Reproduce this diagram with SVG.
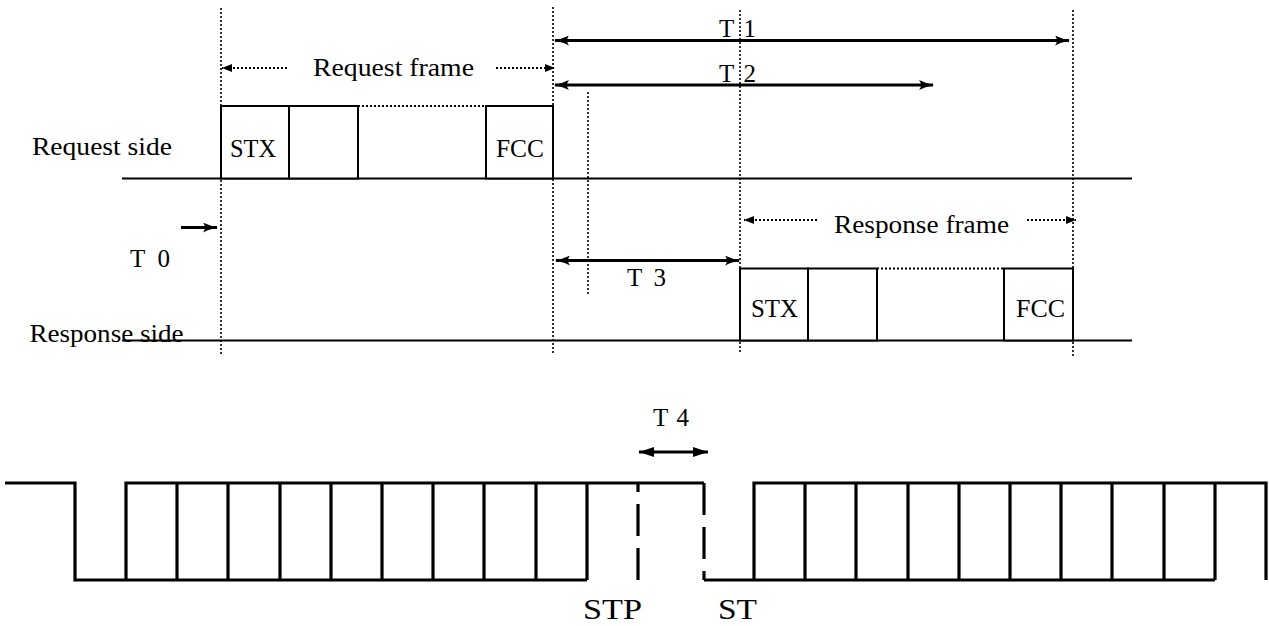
<svg xmlns="http://www.w3.org/2000/svg" width="1269" height="626" viewBox="0 0 1269 626" font-family="'Liberation Serif', 'DejaVu Serif', serif">
<style>
text{font-family:'Liberation Serif','DejaVu Serif',serif;font-size:25px;fill:#000}
.big{font-size:30px}
.base{stroke:#000;stroke-width:2;fill:none}
.box{stroke:#000;stroke-width:2;fill:#fff}
.vdot{stroke:#000;stroke-width:1.6;stroke-dasharray:2 2;fill:none}
.hdot{stroke:#000;stroke-width:2;stroke-dasharray:2 2;fill:none}
.tarr{stroke:#000;stroke-width:3;fill:none}
.wave{stroke:#000;stroke-width:3.2;fill:none;stroke-linejoin:miter}
.dash{stroke:#000;stroke-width:3.2;fill:none;stroke-dasharray:32 12}
</style>
<defs>
<marker id="barb" markerUnits="userSpaceOnUse" viewBox="0 0 15 10" refX="14" refY="5" markerWidth="15" markerHeight="10" orient="auto-start-reverse">
<path d="M15,5 Q7,3.5 0,0 Q4,5 0,10 Q7,6.5 15,5 Z" fill="#000"/>
</marker>
<marker id="tri" markerUnits="userSpaceOnUse" viewBox="0 0 10 8" refX="10" refY="4" markerWidth="10" markerHeight="8" orient="auto-start-reverse">
<path d="M0,0 L10,4 L0,8 Z" fill="#000"/>
</marker>
<marker id="tri2" markerUnits="userSpaceOnUse" viewBox="0 0 15 10" refX="15" refY="5" markerWidth="15" markerHeight="10" orient="auto-start-reverse">
<path d="M0,0 L15,5 L0,10 Z" fill="#000"/>
</marker>
</defs>

<g id="request-side" font-family="'Liberation Serif', serif" font-size="25">
<text x="32" y="155" textLength="140" lengthAdjust="spacingAndGlyphs">Request side</text>
<line class="base" x1="122" y1="178.5" x2="1132" y2="178.5"/>
<rect class="box" x="221" y="106" width="68" height="72.5"/>
<rect class="box" x="289" y="106" width="69" height="72.5"/>
<line class="hdot" x1="358" y1="106" x2="486" y2="106"/>
<rect class="box" x="486" y="106" width="67" height="72.5"/>
<text x="230" y="157" textLength="46" lengthAdjust="spacingAndGlyphs">STX</text>
<text x="496" y="157" textLength="48" lengthAdjust="spacingAndGlyphs">FCC</text>
</g>

<g id="response-side" font-family="'Liberation Serif', serif" font-size="25">
<line class="base" x1="122" y1="340.5" x2="1132" y2="340.5"/>
<rect class="box" x="740" y="268.5" width="68" height="72"/>
<rect class="box" x="808" y="268.5" width="69" height="72"/>
<line class="hdot" x1="877" y1="268.5" x2="1004" y2="268.5"/>
<rect class="box" x="1004" y="268.5" width="69" height="72"/>
<text x="751" y="317" textLength="47" lengthAdjust="spacingAndGlyphs">STX</text>
<text x="1016" y="317" textLength="49" lengthAdjust="spacingAndGlyphs">FCC</text>
<text x="29.5" y="342" textLength="154" lengthAdjust="spacingAndGlyphs">Response side</text>
</g>

<g id="connectors">
<line class="vdot" x1="221" y1="8" x2="221" y2="354"/>
<line class="vdot" x1="553" y1="7" x2="553" y2="354"/>
<line class="vdot" x1="588" y1="92" x2="588" y2="294"/>
<line class="vdot" x1="740" y1="10" x2="740" y2="354"/>
<line class="vdot" x1="1073" y1="10" x2="1073" y2="357"/>
<line class="hdot" x1="287" y1="68" x2="222" y2="68" marker-end="url(#tri)"/>
<line class="hdot" x1="496" y1="68" x2="555" y2="68" marker-end="url(#tri)"/>
<line class="hdot" x1="817" y1="220" x2="744" y2="220" marker-end="url(#tri)"/>
<line class="hdot" x1="1027" y1="220" x2="1076" y2="220" marker-end="url(#tri)"/>
<line class="tarr" x1="555" y1="40.5" x2="1069" y2="40.5" marker-start="url(#barb)" marker-end="url(#barb)"/>
<line class="tarr" x1="555" y1="85" x2="933" y2="85" marker-start="url(#barb)" marker-end="url(#barb)"/>
<line class="tarr" x1="556" y1="260.5" x2="739" y2="260.5" marker-start="url(#barb)" marker-end="url(#barb)"/>
<line class="tarr" x1="181" y1="227.5" x2="217" y2="227.5" marker-end="url(#barb)"/>
<line class="tarr" x1="639" y1="452" x2="708" y2="452" marker-start="url(#tri2)" marker-end="url(#tri2)"/>
</g>

<g id="labels" font-family="'Liberation Serif', serif" font-size="25">
<text x="313" y="76" textLength="161" lengthAdjust="spacingAndGlyphs">Request frame</text>
<text x="834" y="233" textLength="175" lengthAdjust="spacingAndGlyphs">Response frame</text>
<text x="719" y="37" textLength="37" lengthAdjust="spacing">T 1</text>
<text x="719" y="82" textLength="37" lengthAdjust="spacing">T 2</text>
<text x="130" y="267" textLength="40" lengthAdjust="spacing">T 0</text>
<text x="627" y="286" textLength="39" lengthAdjust="spacing">T 3</text>
<text x="653" y="426" textLength="36" lengthAdjust="spacing">T 4</text>
<text class="big" x="583" y="619" font-size="30" textLength="59" lengthAdjust="spacingAndGlyphs">STP</text>
<text class="big" x="718" y="619" font-size="30" textLength="39" lengthAdjust="spacingAndGlyphs">ST</text>
</g>

<g id="waveform">
<path class="wave" d="M5,483 H75 V580 H587 M126,580 V483 H704 M177,483 V580 M228,483 V580 M280,483 V580 M331,483 V580 M382,483 V580 M433,483 V580 M484,483 V580 M536,483 V580 M587,483 V580"/>
<path class="dash" d="M638,580 V483"/>
<path class="dash" d="M704,483 V580"/>
<path class="wave" d="M704,580 H1215 M754,580 V483 H1266 V580 M805,483 V580 M856,483 V580 M908,483 V580 M959,483 V580 M1010,483 V580 M1061,483 V580 M1112,483 V580 M1164,483 V580 M1215,483 V580"/>
</g>
</svg>
